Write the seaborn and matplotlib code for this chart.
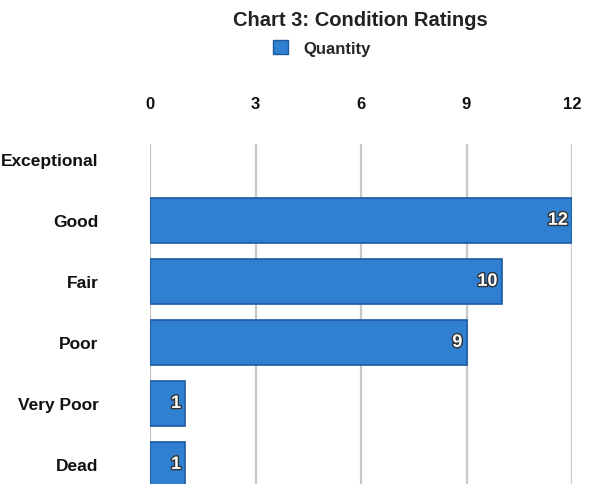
import matplotlib
matplotlib.use("Agg")
import matplotlib.pyplot as plt
import matplotlib.patheffects as pe
from matplotlib.patches import Patch
import seaborn as sns
import pandas as pd

categories = ["Exceptional", "Good", "Fair", "Poor", "Very Poor", "Dead"]
quantity = [0, 12, 10, 9, 1, 1]
x_ticks = [0, 3, 6, 9, 12]
title = "Chart 3: Condition Ratings"
series_name = "Quantity"

sns.set_style("white")
plt.rcParams["font.family"] = ["Liberation Sans", "DejaVu Sans"]

df = pd.DataFrame({"Category": categories, series_name: quantity})

fig = plt.figure(figsize=(5.94, 4.85), dpi=100)
L, R = 150 / 594, 572 / 594
T, B = 1 - 145 / 485, 0.0
ax = fig.add_axes([L, B, R - L, T - B])

bar_color = "#2f80d1"
edge_color = "#1d5aa0"
sns.barplot(data=df, y="Category", x=series_name, orient="h", ax=ax,
            color=bar_color, width=0.74, edgecolor=edge_color, linewidth=1.2,
            saturation=1)
for patch, v in zip(ax.containers[0], quantity):
    if v == 0:
        patch.set_linewidth(0)

ax.set_xlim(0, 12)
ax.set_ylim(5.32, -0.25)
ax.set_xticks(x_ticks)
ax.xaxis.tick_top()
ax.tick_params(axis="x", length=0, pad=24, labelsize=12)
ax.tick_params(axis="y", length=0, pad=37, labelsize=12.5)
for lbl in ax.get_xticklabels() + ax.get_yticklabels():
    lbl.set_fontweight("bold")
    lbl.set_color("#111111")
ax.set_xlabel("")
ax.set_ylabel("")
for s in ax.spines.values():
    s.set_visible(False)
ax.grid(axis="x", color="#c8c8c8", linewidth=1.6)
ax.set_axisbelow(True)

labels = [str(v) if v else "" for v in quantity]
texts = ax.bar_label(ax.containers[0], labels=labels, label_type="edge",
                     padding=-3, color="white", fontsize=13, fontweight="bold")
for t in texts:
    t.set_ha("right")
    t.set_path_effects([pe.withStroke(linewidth=2, foreground="#333333")])

fig.text(360 / 594, 1 - 20 / 485, title, ha="center", va="center",
         fontsize=14.5, fontweight="bold", color="#222222")
fig.legend(handles=[Patch(facecolor=bar_color, edgecolor=edge_color)],
           labels=[series_name], loc="center", bbox_to_anchor=(322 / 594, 1 - 49 / 485),
           frameon=False, prop={"weight": "bold", "size": 12},
           handlelength=0.9, handleheight=0.9, handletextpad=0.9)

fig.savefig("out.png", dpi=100)
